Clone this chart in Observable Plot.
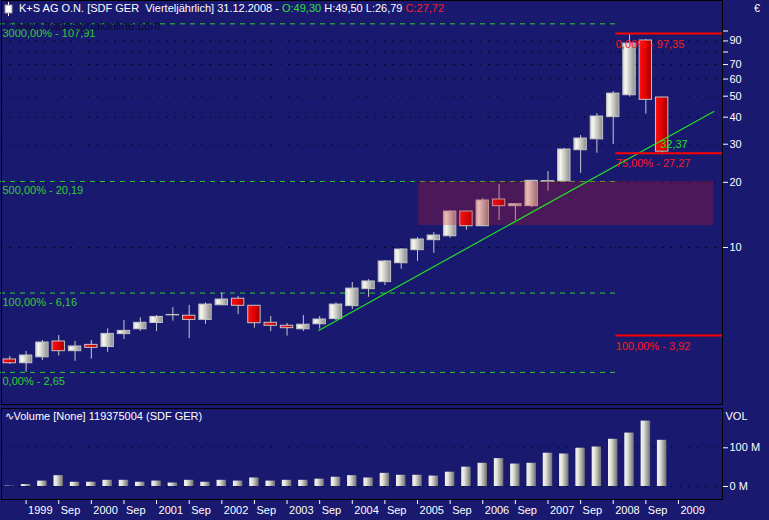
<!DOCTYPE html>
<html>
<head>
<meta charset="utf-8">
<script src="https://cdn.jsdelivr.net/npm/d3@7"></script>
<script src="https://cdn.jsdelivr.net/npm/@observablehq/plot@0.6"></script>
<style>
  html, body { margin: 0; padding: 0; background: #191970; }
  #wrap { position: relative; width: 769px; height: 520px; background: #191970; overflow: hidden;
          font-family: "Liberation Sans", Arial, sans-serif; }
  #main { position: absolute; left: 0; top: 0; }
  #vol { position: absolute; left: 0; top: 406px; }
  #title { position: absolute; left: 19px; top: 2px; font-size: 11px; color: #fff; white-space: pre; }
  #icon { position: absolute; left: 3px; top: 2px; }
  #euro { position: absolute; left: 754px; top: 2px; font-size: 11px; color: #fff; }
  #wm { position: absolute; left: 3px; top: 19px; font-size: 12px; color: #0b0b3a; white-space: pre; }
</style>
</head>
<body>
<div id="wrap">
  <div id="main"></div>
  <div id="vol"></div>
  <svg id="icon" width="12" height="14"><line x1="5.5" y1="0" x2="5.5" y2="14" stroke="#fff"/><rect x="2" y="3" width="7" height="8" fill="#fff" stroke="#999"/></svg>
  <div id="title">K+S AG O.N. [SDF GER  Vierteljährlich] 31.12.2008 - <span style="color:#2ee02e">O:49,30</span> H:49,50 L:26,79 <span style="color:#ff2020">C:27,72</span></div>
  <div id="euro">€</div>
  <div id="wm">© www.tradesignalonline.com</div>
</div>
<script>
// ---------- data ----------
const quarters = ["1998 Q4","1999 Q1","1999 Q2","1999 Q3","1999 Q4","2000 Q1","2000 Q2","2000 Q3","2000 Q4",
  "2001 Q1","2001 Q2","2001 Q3","2001 Q4","2002 Q1","2002 Q2","2002 Q3","2002 Q4","2003 Q1","2003 Q2","2003 Q3","2003 Q4",
  "2004 Q1","2004 Q2","2004 Q3","2004 Q4","2005 Q1","2005 Q2","2005 Q3","2005 Q4","2006 Q1","2006 Q2","2006 Q3","2006 Q4",
  "2007 Q1","2007 Q2","2007 Q3","2007 Q4","2008 Q1","2008 Q2","2008 Q3","2008 Q4"];
const open  = [3.04,2.92,3.11,3.68,3.32,3.55,3.47,3.98,4.19,4.48,4.86,4.84,4.63,5.41,5.80,5.38,4.49,4.35,4.19,4.42,4.67,
  5.36,6.42,6.92,8.46,9.72,10.81,11.27,14.66,12.54,16.66,15.52,15.52,20.15,20.20,28.14,31.60,40.00,50.50,90.40,49.30];
const high  = [3.14,3.31,3.72,3.92,3.68,3.72,4.21,4.60,4.73,4.85,5.28,5.40,5.55,6.16,5.94,5.40,4.80,4.46,4.85,4.80,5.55,
  6.89,7.11,8.71,9.89,11.12,11.73,14.82,14.70,16.84,19.54,15.90,20.40,22.44,28.70,32.90,41.60,52.50,97.35,91.50,49.50];
const low   = [2.88,2.65,3.01,3.15,2.98,3.05,3.28,3.76,4.10,4.09,4.57,3.79,4.42,5.40,4.90,4.24,4.09,3.90,4.09,4.20,4.60,
  5.17,5.89,6.67,7.94,8.64,9.41,11.04,12.02,12.50,13.32,13.32,15.30,18.20,20.10,22.04,27.26,29.90,49.50,41.30,26.79];
const close = [2.92,3.17,3.64,3.32,3.49,3.44,3.99,4.12,4.49,4.78,4.88,4.63,5.45,5.75,5.38,4.47,4.35,4.24,4.40,4.65,5.45,
  6.46,6.97,8.62,9.79,10.89,11.36,14.66,12.54,16.49,15.52,15.85,20.33,20.25,28.36,31.88,40.28,51.40,87.50,48.10,27.72];
const volumeM = [1,5,14,28,11,11,16,16,11,14,9,16,11,16,14,22,14,16,16,19,24,28,22,34,29,29,27,37,50,60,72,58,60,86,84,99,
  102,122,138,169,119.375];

const priceTicks = [10,20,30,40,50,60,70,90];
const allPriceTicks = [10,20,30,40,50,60,70,80,90,100];
const gridPrices = [10,20,30,40,50,60,70,80,90];
const volTicks = [0,100];
const volTickLabels = ["0 M","100 M"];
const xTickIdx = [1,3,5,7,9,11,13,15,17,19,21,23,25,27,29,31,33,35,37,39,41];
const xTickLabels = ["1999","Sep","2000","Sep","2001","Sep","2002","Sep","2003","Sep","2004","Sep","2005","Sep",
  "2006","Sep","2007","Sep","2008","Sep","2009"];

const pctLevelLabels = ["3000,00% - 107,91","500,00% - 20,19","100,00% - 6,16","0,00% - 2,65"];
const pctLevelValues = [107.91,20.19,6.16,2.65];
const retrLabels = ["0,00% - 97,35","75,00% - 27,27","100,00% - 3,92"];
const retrValues = [97.35,27.27,3.92];
const trendQ = [18.94,43.17];
const trendV = [4.14,42.5];
const trendLabel = "32,37";
const trendLabelValue = 32.37;
const zoneQ = [25.07,43.17];
const zoneV = [12.63,20.19];

// ---------- derived tables ----------
const candles = quarters.map((q,i)=>({i,q,open:open[i],high:high[i],low:low[i],close:close[i],up:close[i]>=open[i]}));
const vols = quarters.map((q,i)=>({i,q,v:volumeM[i]}));
const pctLevels = pctLevelValues.map((v,k)=>({value:v,label:pctLevelLabels[k]}));
const retrLevels = retrValues.map((v,k)=>({value:v,label:retrLabels[k]}));
const trend = trendQ.map((q,k)=>({q,v:trendV[k]}));
const zone = [{q1:zoneQ[0],q2:zoneQ[1],lo:zoneV[0],hi:zoneV[1]}];
const xTicks = xTickIdx.map((d,k)=>({q:d,label:xTickLabels[k]}));
const volTickRows = volTicks.map((d,k)=>({v:d,label:volTickLabels[k]}));

const xDomain = [-0.57, 43.7];
const splitQ = 37.16;
const font = "'Liberation Sans', Arial, sans-serif";

function addGrad(defs, id, stops) {
  const g = defs.append("linearGradient").attr("id", id).attr("x1","0").attr("x2","1").attr("y1","0").attr("y2","0");
  stops.forEach(([o,c]) => g.append("stop").attr("offset", o).attr("stop-color", c));
}

const bodyHalf = 0.38;
const main = Plot.plot({
  width: 769, height: 406,
  marginLeft: 1, marginRight: 47, marginTop: 0, marginBottom: 2,
  style: {background: "none", color: "white", fontSize: "11px", fontFamily: font, overflow: "visible"},
  x: {domain: xDomain, range: [0, 722], axis: null},
  y: {type: "log", domain: [1.883, 115.46], range: [404, 17], axis: null},
  marks: [
    Plot.gridY(gridPrices, {stroke: "#000", strokeOpacity: 1, strokeDasharray: "1.3,7.4"}),
    Plot.ruleY(pctLevels, {y: "value", x1: xDomain[0], x2: splitQ, stroke: "#33cc33", strokeDasharray: "5,5"}),
    Plot.ruleX(candles, {x: "i", y1: "low", y2: "high", stroke: "#c8c8d0"}),
    Plot.rect(candles.filter(d=>d.up), {x1: d=>d.i-bodyHalf, x2: d=>d.i+bodyHalf, y1: "open", y2: "close", fill: "url(#kgw)", stroke: "#c4c4c4"}),
    Plot.rect(candles.filter(d=>!d.up), {x1: d=>d.i-bodyHalf, x2: d=>d.i+bodyHalf, y1: "open", y2: "close", fill: "url(#kgr)", stroke: "#c4c4c4"}),
    Plot.rect(zone, {x1: "q1", x2: "q2", y1: "lo", y2: "hi", fill: "rgb(203,25,33)", fillOpacity: 0.28}),
    Plot.line(trend, {x: "q", y: "v", stroke: "#22e022", strokeWidth: 1.2}),
    Plot.ruleY(retrLevels, {y: "value", x1: splitQ, x2: xDomain[1], stroke: "#ff0000", strokeWidth: 2}),
    Plot.text(pctLevels, {x: xDomain[0], y: "value", text: "label", textAnchor: "start", dx: 2, dy: 9.5, fill: "#33cc33"}),
    Plot.text(retrLevels, {x: splitQ, y: "value", text: "label", textAnchor: "start", dy: 10.5, fill: "#ff1a1a"}),
    Plot.text([{q: 40, v: trendLabelValue, t: trendLabel}], {x: "q", y: "v", text: "t", textAnchor: "start", dx: -2, dy: 7.5, fill: "#22e022"}),
    Plot.axisY(allPriceTicks, {anchor: "right", tickSize: 5, text: null, label: null, stroke: "white"}),
    Plot.text(priceTicks, {y: d => d, text: d => String(d), frameAnchor: "right", textAnchor: "start", dx: 7, fill: "white"}),
    Plot.frame({stroke: "#000"})
  ]
});
{
  const defs = d3.select(main).insert("defs", ":first-child");
  addGrad(defs, "kgw", [[0,"#d6d6ce"],[0.22,"#f7f7f0"],[1,"#8c8c8c"]]);
  addGrad(defs, "kgr", [[0,"#ff1010"],[0.55,"#e00000"],[1,"#9c0000"]]);
}
document.getElementById("main").appendChild(main);

const vol = Plot.plot({
  width: 769, height: 114,
  marginLeft: 1, marginRight: 47, marginTop: 2, marginBottom: 21,
  style: {background: "none", color: "white", fontSize: "11px", fontFamily: font, overflow: "visible"},
  x: {domain: xDomain, range: [0, 722], axis: null},
  y: {domain: [0, 100], range: [80, 41.3], axis: null},
  marks: [
    Plot.gridY(volTicks, {stroke: "#000", strokeOpacity: 1, strokeDasharray: "1.3,7.4"}),
    Plot.rect(vols, {x1: d=>d.i-0.29, x2: d=>d.i+0.29, y1: 0, y2: "v", fill: "url(#kgv)"}),
    Plot.axisY(volTicks, {anchor: "right", tickSize: 5, text: null, label: null, stroke: "white"}),
    Plot.text(volTickRows, {y: "v", text: "label", frameAnchor: "right", textAnchor: "start", dx: 7, fill: "white"}),
    Plot.axisX(xTicks.map(d => d.q), {anchor: "bottom", tickSize: 5, text: null, label: null, stroke: "white"}),
    Plot.text(xTicks, {x: "q", text: "label", frameAnchor: "bottom", textAnchor: "start", lineAnchor: "top", dx: 2, dy: 7, fill: "white"}),
    Plot.text(["VOL"], {frameAnchor: "top-right", text: d => d, textAnchor: "start", lineAnchor: "top", dx: 3, dy: 4, fill: "white"}),
    Plot.text(["\u223FVolume [None] 119375004 (SDF GER)"], {frameAnchor: "top-left", text: d => d, textAnchor: "start", lineAnchor: "top", dx: 3, dy: 4, fill: "white"}),
    Plot.frame({stroke: "#000"})
  ]
});
{
  const defs = d3.select(vol).insert("defs", ":first-child");
  addGrad(defs, "kgv", [[0,"#f2f2ee"],[0.3,"#e6e6e0"],[1,"#6e6e6e"]]);
}
document.getElementById("vol").appendChild(vol);
</script>
</body>
</html>
